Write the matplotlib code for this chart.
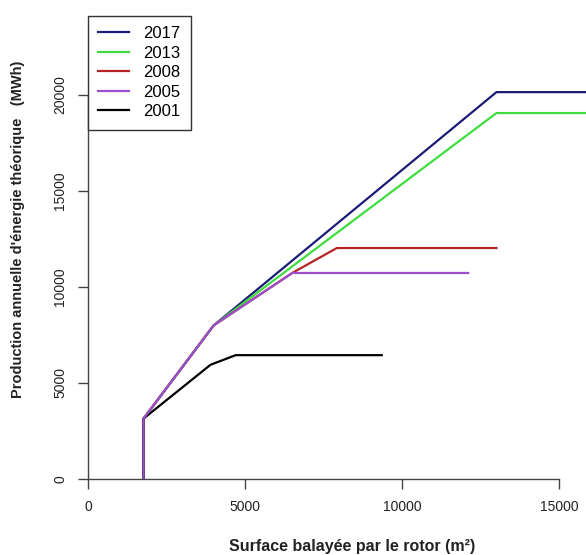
import matplotlib
matplotlib.use('Agg')
import matplotlib.pyplot as plt

plt.rcParams['font.family'] = ['Liberation Sans', 'DejaVu Sans']
plt.rcParams['xtick.direction'] = 'out'
plt.rcParams['ytick.direction'] = 'out'

# values
years = ['2017', '2013', '2008', '2005', '2001']
colors = ['#1c1c78', '#3fdc3f', '#b52424', '#9c4fcc', '#000000']
x_2017 = [1770, 1770, 4000, 13000, 16500]
y_2017 = [0, 3150, 8000, 20150, 20150]
x_2013 = [1770, 1770, 4000, 13000, 16500]
y_2013 = [0, 3150, 8000, 19060, 19060]
x_2008 = [1770, 1770, 4000, 6500, 7920, 13000]
y_2008 = [0, 3150, 8000, 10730, 12030, 12030]
x_2005 = [1770, 1770, 4000, 6500, 12100]
y_2005 = [0, 3150, 8000, 10730, 10730]
x_2001 = [1770, 1770, 3900, 4700, 9350]
y_2001 = [0, 3150, 5950, 6450, 6450]

xticks = [0, 5000, 10000, 15000]
yticks = [0, 5000, 10000, 15000, 20000]

series = {
    '2017': (x_2017, y_2017),
    '2013': (x_2013, y_2013),
    '2008': (x_2008, y_2008),
    '2005': (x_2005, y_2005),
    '2001': (x_2001, y_2001),
}

fig = plt.figure(figsize=(5.86, 5.55), dpi=100)
W, H = 586.0, 555.0
ax = fig.add_axes([88 / W, (H - 479) / H, (W - 88) / W, (479 - 16) / H])

handles = {}
for yr, c in [('2017', colors[0]), ('2013', colors[1]), ('2008', colors[2]),
              ('2001', colors[4]), ('2005', colors[3])]:
    xs, ys = series[yr]
    h, = ax.plot(xs, ys, color=c, lw=1.6, solid_joinstyle='miter')
    handles[yr] = h

ax.set_xlim(0, (W - 88) / 0.03142)
ax.set_ylim(0, (479 - 16) / 0.0192)

for s in ['top', 'right']:
    ax.spines[s].set_visible(False)
ax.spines['left'].set_bounds(0, 20000)
ax.spines['bottom'].set_bounds(0, 15000)
for s in ['left', 'bottom']:
    ax.spines[s].set_color('#444444')
    ax.spines[s].set_linewidth(1.0)

ax.set_xticks(xticks)
ax.set_yticks(yticks)
ax.set_xticklabels([str(v) for v in xticks])
ax.set_yticklabels([str(v) for v in yticks], rotation=90, va='center')
ax.tick_params(length=7, width=1.0, color='#444444', labelsize=10,
               labelcolor='#222222', pad=8)

fig.text(352 / W, 1 - 547 / H,
         'Surface balayée par le rotor (m²)', ha='center', va='center',
         fontsize=11.5, fontweight='bold', color='#222222')
fig.text(18 / W, 1 - 229 / H,
         "Production annuelle d'énergie théorique   (MWh)", ha='center',
         va='center', rotation=90, fontsize=10.5, fontweight='bold',
         color='#222222')

leg = ax.legend([handles[y] for y in years], years, loc='upper left',
                bbox_to_anchor=(0, 1), borderaxespad=0, fontsize=12,
                frameon=True, fancybox=False, handlelength=1.85,
                labelspacing=0.27, borderpad=0.62, handletextpad=0.84)
leg.get_frame().set_edgecolor('#333333')
leg.get_frame().set_linewidth(1.0)
leg.get_frame().set_alpha(1)
leg.set_zorder(5)

fig.savefig('out.png', dpi=100)
